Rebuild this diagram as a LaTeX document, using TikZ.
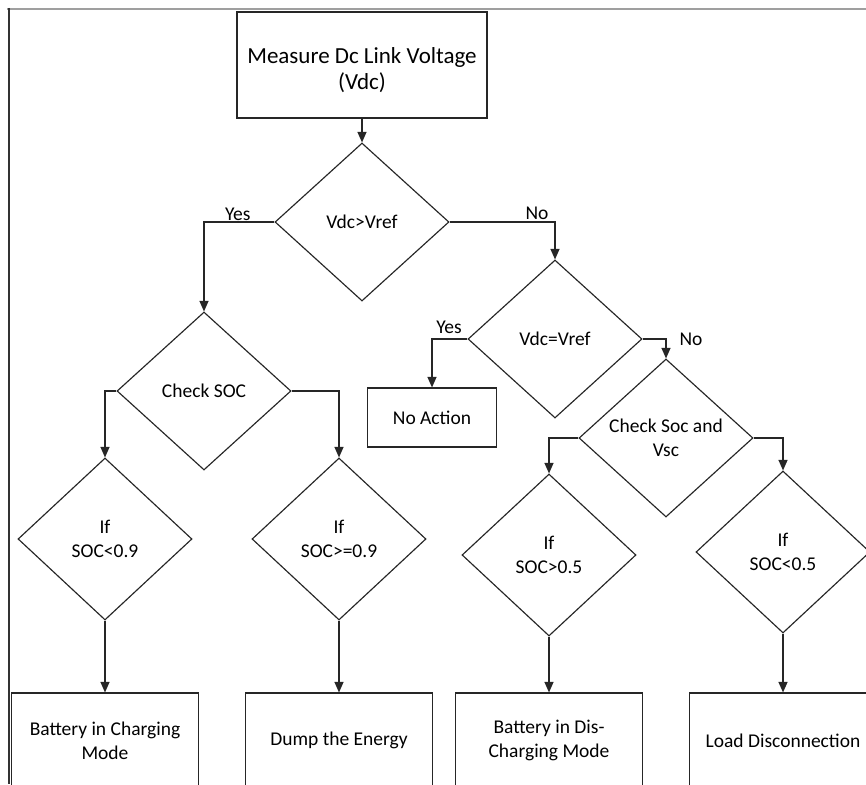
\documentclass[tikz,border=0pt]{standalone}
\usepackage{fontspec}
\setmainfont{Carlito}
\usetikzlibrary{shapes.geometric,arrows.meta}
\begin{document}
\begin{tikzpicture}[x=1pt,y=-1pt,
  ln/.style={line width=1.15pt, draw=black!85},
  txt/.style={font=\fontsize{19.5}{24}\selectfont},
  boxn/.style={ln, txt, rectangle, minimum width=187pt, minimum height=95pt, inner sep=0pt, align=center},
  dia/.style={ln, txt, diamond, minimum width=174pt, minimum height=158pt, inner sep=0pt, align=center},
  diab/.style={dia, minimum height=162pt},
  arr/.style={ln, -{Triangle[length=10.5pt,width=9pt]}},
  lab/.style={txt, inner sep=1pt},
]
\useasboundingbox (0,0) rectangle (866,784);
\clip (0,0) rectangle (866,784);
\fill[white] (0,0) rectangle (866,784);
\draw[line width=2pt, gray!75] (7,9) -- (866,9);
\draw[line width=1.2pt, black!80] (9,8) -- (9,784);

% top box
\node[ln, rectangle, minimum width=250pt, minimum height=106pt, inner sep=0pt,
  label={[font=\fontsize{23}{26}\selectfont, align=center, yshift=-5pt]center:{Measure Dc Link Voltage\\(Vdc)}}] (top) at (362,65) {};

% diamonds
\node[dia] (d1) at (362,222) {Vdc>Vref};
\node[dia] (dsoc) at (204,391) {Check SOC};
\node[dia] (deq) at (555,339) {Vdc=Vref};
\node[dia] (dcs) at (666,438) {Check Soc and\\Vsc};
\node[diab] (d3) at (105,539) {If\\SOC<0.9};
\node[diab] (d4) at (339,539) {If\\SOC>=0.9};
\node[diab] (d5) at (549,555) {If\\SOC>0.5};
\node[diab] (d6) at (783,552) {If\\SOC<0.5};

% boxes
\node[ln, txt, rectangle, minimum width=129pt, minimum height=59pt, inner sep=0pt] (na) at (432,417.5) {No Action};
\node[boxn] (b1) at (105,740.5) {Battery in Charging\\Mode};
\node[boxn] (b2) at (339,740.5) {Dump the Energy};
\node[boxn] (b3) at (549,740.5) {Battery in Dis-\\Charging Mode};
\node[boxn] (b4) at (783,740.5) {Load Disconnection};

% connectors
\draw[arr] (top.south) -- (d1.north);
\draw[arr] (d1.west) -| node[lab, pos=0.26, above=0pt] {Yes} (dsoc.north);
\draw[arr] (d1.east) -| node[lab, pos=0.415, above=1pt] {No} (deq.north);
\draw[arr] (dsoc.west) -| (d3.north);
\draw[arr] (dsoc.east) -| (d4.north);
\draw[arr] (deq.west) -| node[lab, pos=0.26, above=4pt] {Yes} (na.north);
\draw[arr] (deq.east) -| node[lab, pos=0.5, anchor=west, xshift=12pt] {No} (dcs.north);
\draw[arr] (dcs.west) -| (d5.north);
\draw[arr] (dcs.east) -| (d6.north);
\draw[arr] (d3.south) -- (b1.north);
\draw[arr] (d4.south) -- (b2.north);
\draw[arr] (d5.south) -- (b3.north);
\draw[arr] (d6.south) -- (b4.north);
\end{tikzpicture}
\end{document}
